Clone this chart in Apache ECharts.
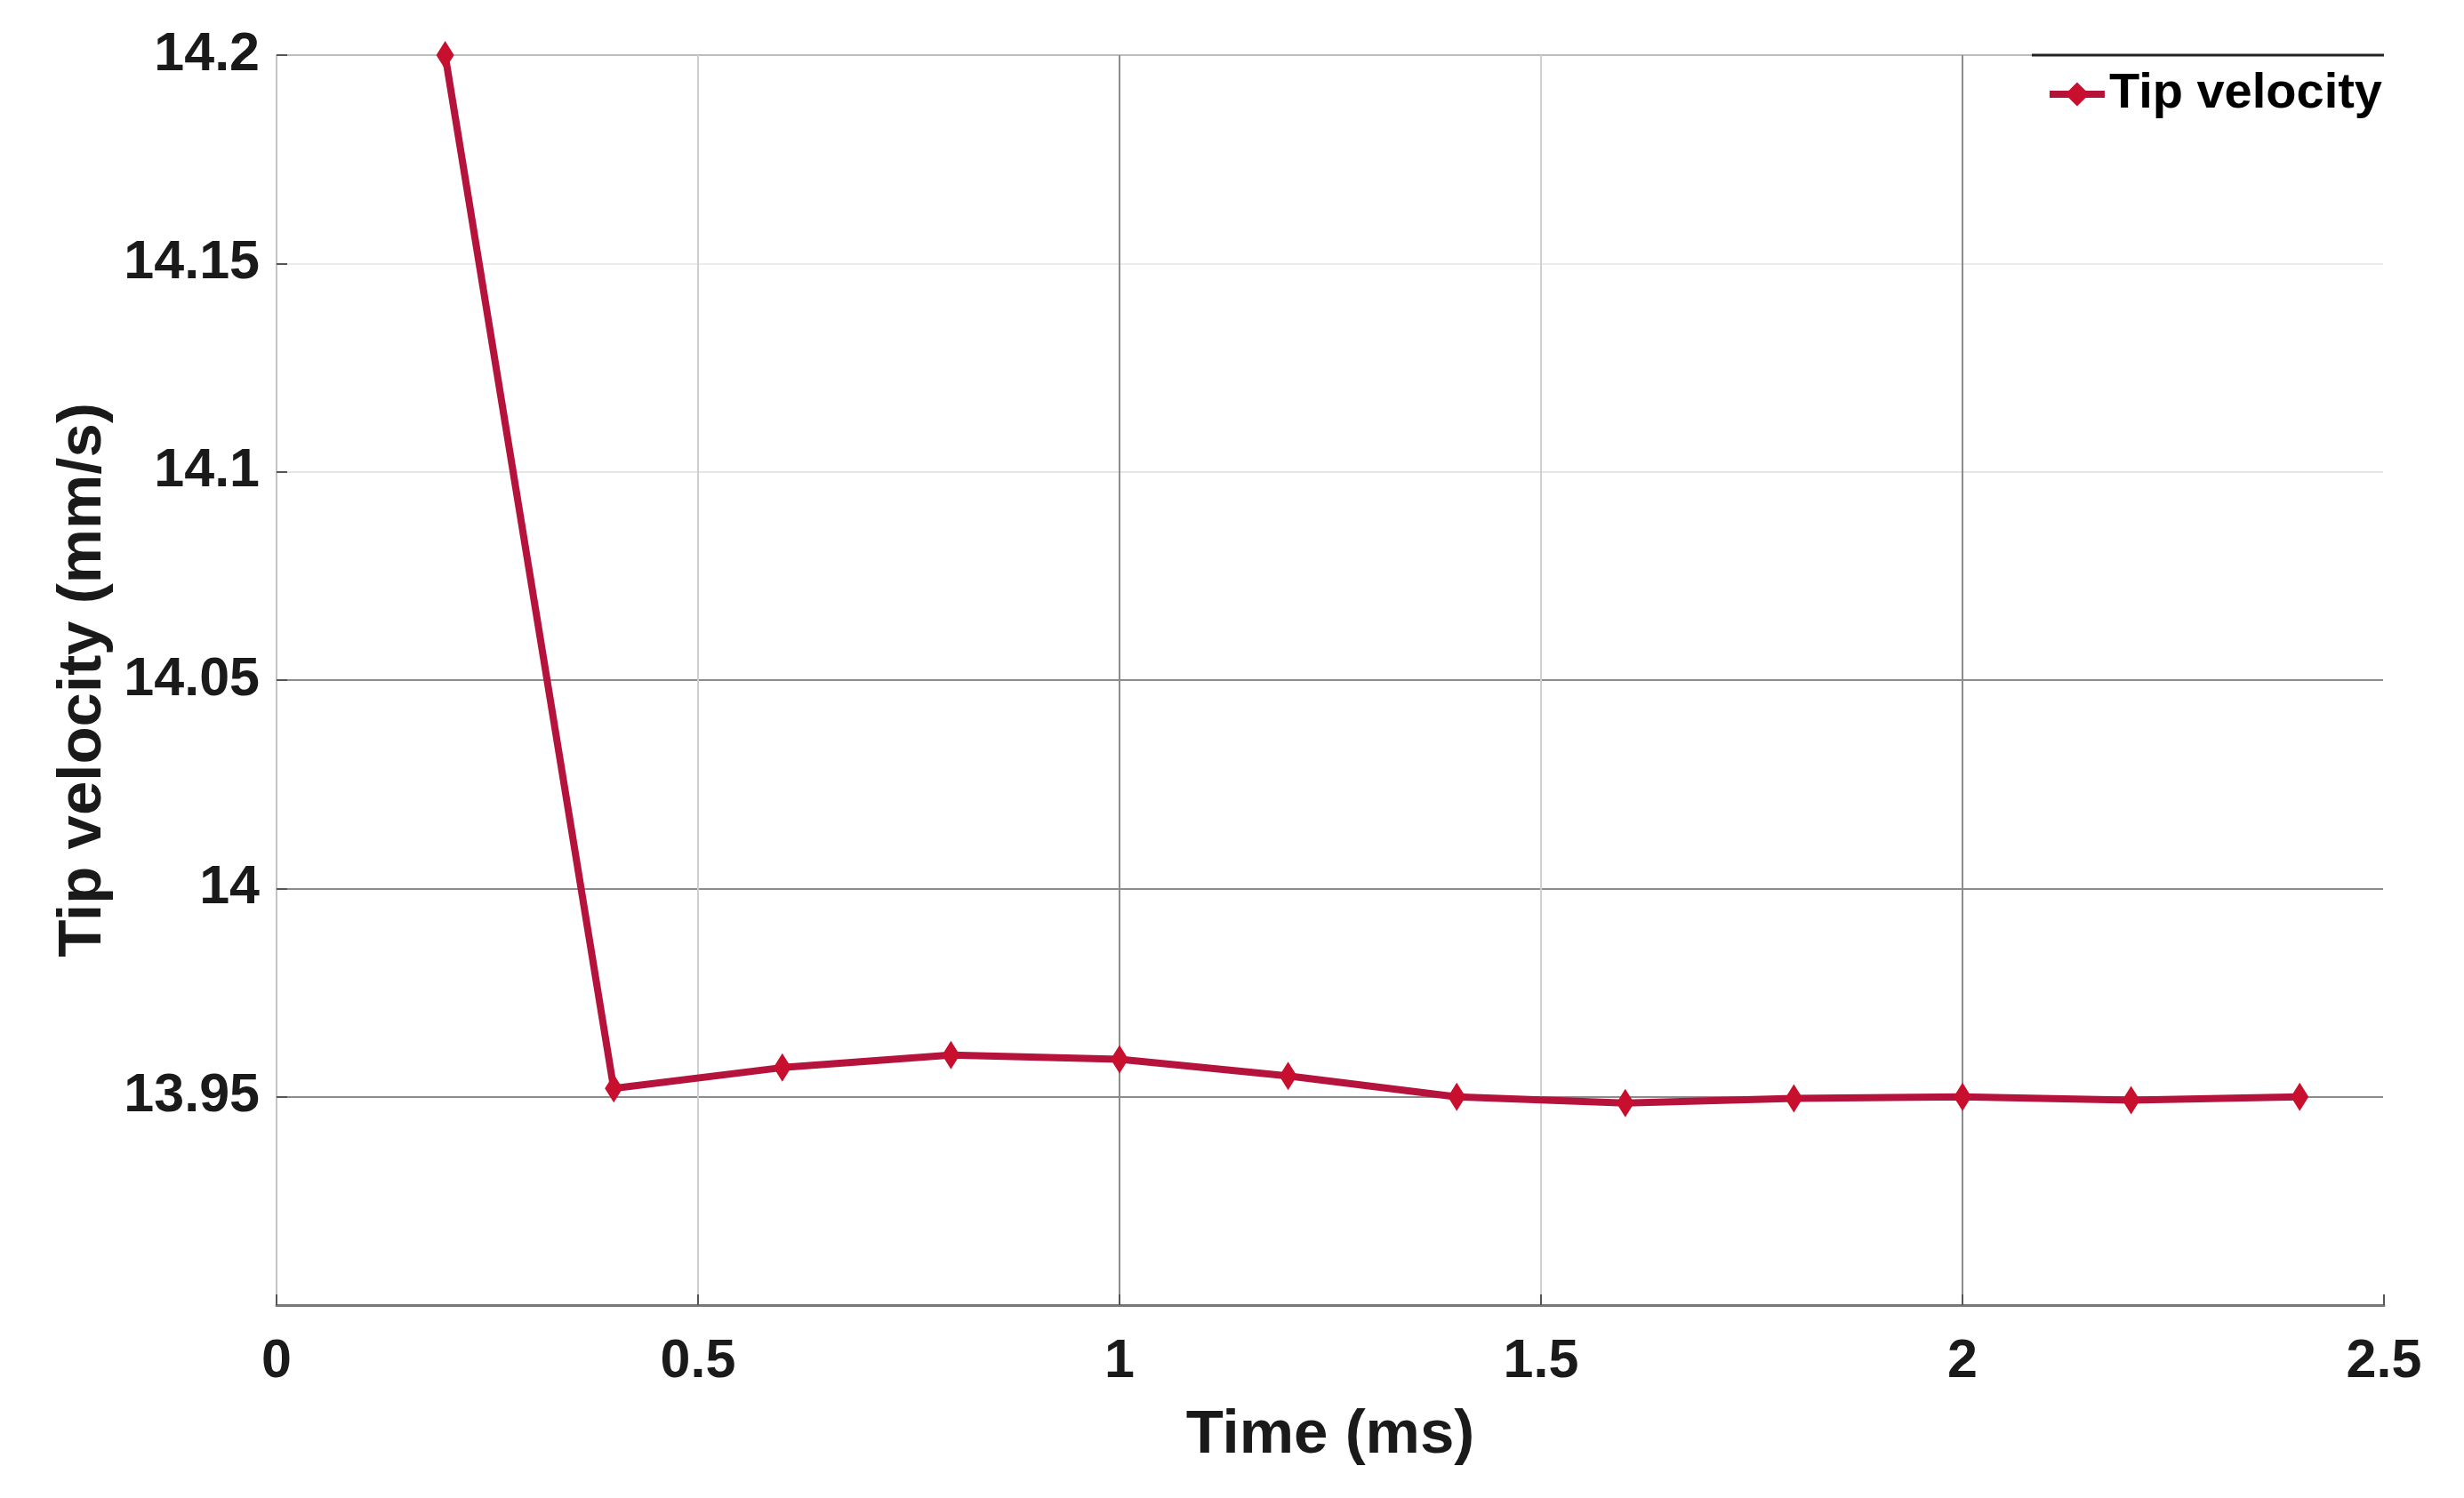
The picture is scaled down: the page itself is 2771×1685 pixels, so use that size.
<!DOCTYPE html>
<html>
<head>
<meta charset="utf-8">
<script src="https://cdn.jsdelivr.net/npm/echarts@6/dist/echarts.min.js"></script>
<style>
  html, body { margin: 0; padding: 0; background: #fff; }
  #chart { width: 2771px; height: 1685px; }
</style>
</head>
<body>
<div id="chart"></div>
<script>
// time points (ms) and tip velocity (mm/s)
var timeMs = [0.2, 0.4, 0.6, 0.8, 1.0, 1.2, 1.4, 1.6, 1.8, 2.0, 2.2, 2.4]
var tipVelocity = [14.2, 13.952, 13.957, 13.96, 13.959, 13.955, 13.95, 13.9485, 13.9496, 13.95, 13.9492, 13.95]
var seriesName = 'Tip velocity'

var font = '"Liberation Sans", Arial, sans-serif'
var lineColor = '#b5133b'

var chart = echarts.init(document.getElementById('chart'))

var points = timeMs.map(function (t, i) { return [t, tipVelocity[i]] })

var option = {
  backgroundColor: '#fff',
  animation: false,
  grid: {
    left: 311,
    right: 90,
    top: 62,
    bottom: 217
  },
  legend: {
    data: [seriesName],
    right: 92,
    top: 78,
    padding: 0,
    itemWidth: 62,
    itemHeight: 34,
    itemGap: 4,
    lineStyle: { width: 8, color: lineColor },
    textStyle: {
      fontFamily: font,
      fontWeight: 'bold',
      fontSize: 56,
      color: '#000'
    }
  },
  xAxis: {
    type: 'value',
    min: 0,
    max: 2.5,
    interval: 0.5,
    name: 'Time (ms)',
    nameLocation: 'middle',
    nameGap: 112,
    nameTextStyle: {
      fontFamily: font,
      fontWeight: 'bold',
      fontSize: 69,
      color: '#1a1a1a'
    },
    axisLine: { show: true, lineStyle: { color: '#777', width: 3 } },
    axisTick: { show: true, inside: true, length: 12, lineStyle: { color: '#555', width: 2 } },
    axisLabel: {
      margin: 34,
      fontFamily: font,
      fontWeight: 'bold',
      fontSize: 61,
      color: '#1a1a1a'
    },
    splitLine: {
      show: true,
      lineStyle: { color: ['#ffffff', '#cfcfcf', '#8c8c8c', '#cfcfcf', '#8c8c8c', '#ffffff'], width: 2 }
    }
  },
  yAxis: {
    type: 'value',
    min: 13.9,
    max: 14.2,
    interval: 0.05,
    name: 'Tip velocity (mm/s)',
    nameLocation: 'middle',
    nameGap: 182,
    nameTextStyle: {
      fontFamily: font,
      fontWeight: 'bold',
      fontSize: 69,
      color: '#1a1a1a'
    },
    axisLine: { show: true, lineStyle: { color: '#c4c4c4', width: 2 } },
    axisTick: { show: true, inside: true, length: 12, lineStyle: { color: '#555', width: 2 } },
    axisLabel: {
      margin: 19,
      showMinLabel: false,
      fontFamily: font,
      fontWeight: 'bold',
      fontSize: 61,
      color: '#1a1a1a'
    },
    splitLine: {
      show: true,
      lineStyle: { color: ['#777', '#8c8c8c', '#8c8c8c', '#8c8c8c', '#e6e6e6', '#ececec', '#bdbdbd'], width: 2 }
    }
  },
  graphic: [{
    // legend box top edge
    type: 'line',
    shape: { x1: 2285, y1: 62, x2: 2681, y2: 62 },
    style: { stroke: '#222', lineWidth: 3 },
    z: 100
  }],
  series: [{
    name: seriesName,
    type: 'line',
    data: points,
    symbol: 'diamond',
    symbolSize: [20, 32],
    showAllSymbol: true,
    lineStyle: { color: lineColor, width: 8 },
    itemStyle: { color: '#c8102e' },
    z: 10
  }]
}

chart.setOption(option)
</script>
</body>
</html>
